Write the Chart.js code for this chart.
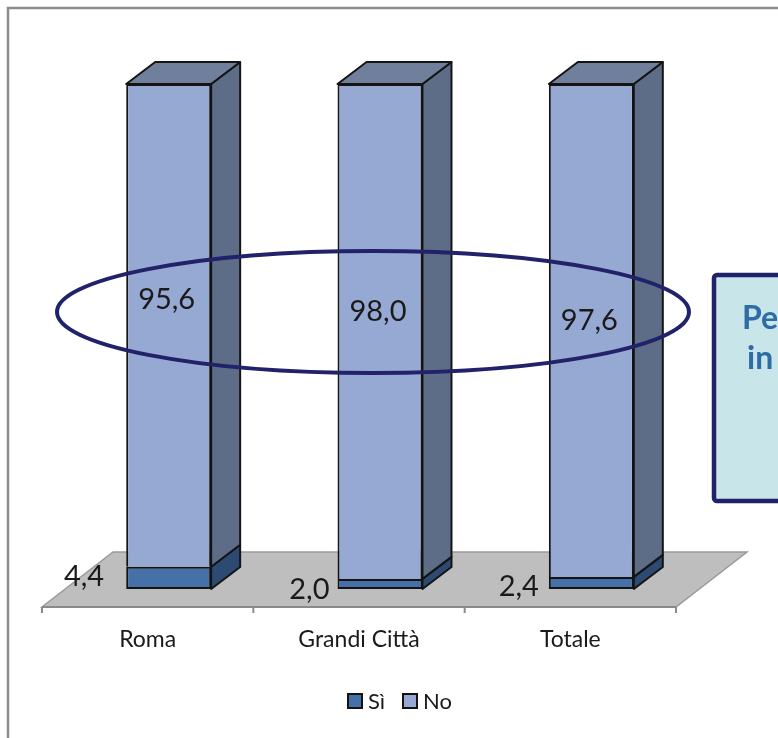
<!DOCTYPE html>
<html>
<head>
<meta charset="utf-8">
<script src="https://cdn.jsdelivr.net/npm/chart.js@4/dist/chart.umd.min.js"></script>
<style>
  html, body { margin: 0; padding: 0; background: #ffffff; }
  #wrap { position: relative; width: 778px; height: 738px; }
  canvas { display: block; }
</style>
</head>
<body>
<div id="wrap"><canvas id="c" width="778" height="738"></canvas></div>
<script>
// ---- data ----
const categories = ['Roma', 'Grandi Città', 'Totale'];
const seriesNames = ['Sì', 'No'];
const siValues = [4.4, 2.0, 2.4];
const noValues = [95.6, 98.0, 97.6];
const siLabels = ['4,4', '2,0', '2,4'];
const noLabels = ['95,6', '98,0', '97,6'];
const boxLines = ['Pe', 'in'];

// ---- styles ----
const FONT = 'Lato, "Open Sans", "DejaVu Sans", sans-serif';
const colors = {
  si:   { front: '#4571A8', side: '#2C4A72', top: '#3B5F8E' },
  no:   { front: '#95A9D2', side: '#5D6D87', top: '#6F7F9C' },
  edge: '#141414',
  floor: '#BEBEBE',
  floorEdge: '#9A9A9A',
  frame: '#8C8C8C',
  ellipse: '#22226A',
  boxFill: '#C8E6EA',
  boxBorder: '#22226A',
  boxText: '#2F6CA6'
};
const DEPTH = { dx: 29, dy: -22 };              // bar depth
const FLOOR = { fx: -21, fy: 18, bx: 50, by: -37 }; // floor front/back offsets

// label nudges relative to anchor (style only)
const noNudgeY = [-26, -20, -10];
const siNudge = [[-22, -1], [-8, 6], [-10, 4]];

const threeD = {
  id: 'threeD',
  beforeDatasetsDraw(chart) {
    const ctx = chart.ctx;
    const xs = chart.scales.x, ys = chart.scales.y;
    const left = xs.left, right = xs.right;
    const base = ys.getPixelForValue(0);
    ctx.save();
    // chart frame
    ctx.strokeStyle = colors.frame;
    ctx.lineWidth = 2.5;
    ctx.beginPath();
    ctx.moveTo(8, 740); ctx.lineTo(8, 8); ctx.lineTo(780, 8);
    ctx.stroke();
    // floor
    const fl = left + FLOOR.fx, fr = right + FLOOR.fx, fy = base + FLOOR.fy;
    const bl = left + FLOOR.bx, br = right + FLOOR.bx, by = base + FLOOR.by;
    ctx.fillStyle = colors.floor;
    ctx.beginPath();
    ctx.moveTo(fl, fy); ctx.lineTo(fr, fy); ctx.lineTo(br, by); ctx.lineTo(bl, by); ctx.closePath();
    ctx.fill();
    ctx.strokeStyle = colors.floorEdge;
    ctx.lineWidth = 1.5;
    ctx.stroke();
    // front edge + ticks
    ctx.strokeStyle = '#8A8A8A';
    ctx.lineWidth = 2;
    ctx.beginPath();
    ctx.moveTo(fl, fy); ctx.lineTo(fr, fy);
    const n = categories.length;
    for (let i = 0; i <= n; i++) {
      const tx = fl + (fr - fl) * i / n;
      ctx.moveTo(tx, fy); ctx.lineTo(tx, fy + 6);
    }
    ctx.stroke();
    // category labels
    ctx.fillStyle = '#1a1a1a';
    ctx.font = '23px ' + FONT;
    ctx.textAlign = 'center';
    ctx.textBaseline = 'middle';
    categories.forEach((c, i) => {
      const cx = xs.getPixelForValue(i) + FLOOR.fx;
      ctx.fillText(c, cx, fy + 33);
    });
    ctx.restore();
  },
  afterDatasetsDraw(chart) {
    const ctx = chart.ctx;
    const metaSi = chart.getDatasetMeta(0), metaNo = chart.getDatasetMeta(1);
    ctx.save();
    ctx.lineJoin = 'round';
    ctx.lineWidth = 2;
    ctx.strokeStyle = colors.edge;
    const poly = (pts, fill) => {
      ctx.beginPath();
      ctx.moveTo(pts[0][0], pts[0][1]);
      for (let k = 1; k < pts.length; k++) ctx.lineTo(pts[k][0], pts[k][1]);
      ctx.closePath();
      ctx.fillStyle = fill; ctx.fill(); ctx.stroke();
    };
    [[metaSi, colors.si], [metaNo, colors.no]].forEach(([meta, col], si) => {
      meta.data.forEach((bar) => {
        const p = bar.getProps(['x', 'y', 'base', 'width'], true);
        const r = p.x + p.width / 2, l = p.x - p.width / 2;
        const top = Math.min(p.y, p.base), bot = Math.max(p.y, p.base);
        poly([[r, top], [r + DEPTH.dx, top + DEPTH.dy], [r + DEPTH.dx, bot + DEPTH.dy], [r, bot]], col.side);
        if (si === 1) {
          poly([[l, top], [l + DEPTH.dx, top + DEPTH.dy], [r + DEPTH.dx, top + DEPTH.dy], [r, top]], col.top);
        }
      });
    });
    // data labels
    ctx.fillStyle = '#1a1a1a';
    ctx.textBaseline = 'middle';
    ctx.font = '29px ' + FONT;
    ctx.textAlign = 'center';
    metaNo.data.forEach((bar, i) => {
      const p = bar.getProps(['x', 'y', 'base'], true);
      ctx.fillText(noLabels[i], p.x - 2, (p.y + p.base) / 2 + noNudgeY[i]);
    });
    ctx.textAlign = 'right';
    metaSi.data.forEach((bar, i) => {
      const p = bar.getProps(['x', 'y', 'base', 'width'], true);
      ctx.fillText(siLabels[i], p.x - p.width / 2 + siNudge[i][0], (p.y + p.base) / 2 + siNudge[i][1]);
    });
    ctx.restore();
  },
  afterDraw(chart) {
    const ctx = chart.ctx;
    ctx.save();
    // ellipse
    ctx.strokeStyle = colors.ellipse;
    ctx.lineWidth = 4;
    ctx.beginPath();
    ctx.ellipse(373, 312, 316, 61, 0, 0, Math.PI * 2);
    ctx.stroke();
    // text box (cut at right)
    ctx.fillStyle = colors.boxFill;
    ctx.strokeStyle = colors.boxBorder;
    ctx.lineWidth = 4.5;
    ctx.beginPath();
    if (ctx.roundRect) ctx.roundRect(714, 275, 120, 226, 3); else ctx.rect(714, 275, 120, 226);
    ctx.fill(); ctx.stroke();
    ctx.fillStyle = colors.boxText;
    ctx.font = 'bold 32px ' + FONT;
    ctx.textAlign = 'left';
    ctx.textBaseline = 'alphabetic';
    ctx.fillText(boxLines[0], 742, 329);
    ctx.fillText(boxLines[1], 747, 369);
    // legend
    ctx.font = '22px ' + FONT;
    ctx.textBaseline = 'middle';
    const items = [[seriesNames[0], colors.si.front, 348], [seriesNames[1], colors.no.front, 403]];
    items.forEach(([t, c, x]) => {
      ctx.fillStyle = c;
      ctx.fillRect(x, 694, 14, 14);
      ctx.strokeStyle = colors.edge;
      ctx.lineWidth = 2;
      ctx.strokeRect(x, 694, 14, 14);
      ctx.fillStyle = '#1a1a1a';
      ctx.fillText(t, x + 20, 702);
    });
    ctx.restore();
  }
};

new Chart(document.getElementById('c'), {
  type: 'bar',
  data: {
    labels: categories,
    datasets: [
      { label: seriesNames[0], data: siValues, backgroundColor: colors.si.front,
        borderColor: colors.edge, borderWidth: 2, borderSkipped: false },
      { label: seriesNames[1], data: noValues, backgroundColor: colors.no.front,
        borderColor: colors.edge, borderWidth: { top: 2, left: 2, right: 2, bottom: 0 }, borderSkipped: false }
    ]
  },
  options: {
    responsive: false,
    animation: false,
    devicePixelRatio: 1,
    layout: { padding: { left: 63, right: 81, top: 84, bottom: 149 } },
    datasets: { bar: { categoryPercentage: 1.0, barPercentage: 0.402 } },
    scales: {
      x: { stacked: true, display: false, offset: true },
      y: { stacked: true, display: false, min: 0, max: 100 }
    },
    plugins: { legend: { display: false }, tooltip: { enabled: false } }
  },
  plugins: [threeD]
});
</script>
</body>
</html>
